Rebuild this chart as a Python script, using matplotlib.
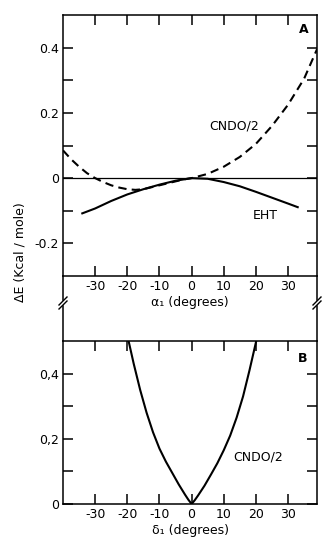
import numpy as np
import matplotlib
matplotlib.use("Agg")
import matplotlib.pyplot as plt
import matplotlib as mpl
from matplotlib.lines import Line2D

mpl.rcParams['font.family'] = 'DejaVu Sans'
mpl.rcParams['font.size'] = 9
mpl.rcParams['axes.linewidth'] = 1.1
mpl.rcParams['xtick.direction'] = 'in'
mpl.rcParams['ytick.direction'] = 'in'
mpl.rcParams['xtick.major.size'] = 7
mpl.rcParams['ytick.major.size'] = 7
mpl.rcParams['xtick.major.width'] = 1.1
mpl.rcParams['ytick.major.width'] = 1.1

W, H = 326, 543

# panel A: energy vs alpha_1
alpha_cndo = [-40, -37.5, -35, -32.5, -30, -27.5, -25, -22.5, -20, -17.5, -15, -12.5,
              -10, -7.5, -5, -2.5, 0, 5, 10, 15, 20, 25, 30, 35, 39]
e_cndo_a = [0.085, 0.058, 0.035, 0.015, 0.0, -0.012, -0.022, -0.029, -0.034, -0.036,
            -0.034, -0.028, -0.022, -0.016, -0.010, -0.004, 0.0, 0.013, 0.035, 0.065,
            0.105, 0.160, 0.225, 0.305, 0.395]
alpha_eht = [-34, -30, -25, -20, -15, -10, -5, 0, 5, 10, 15, 20, 25, 30, 33]
e_eht = [-0.108, -0.093, -0.070, -0.050, -0.034, -0.020, -0.008, 0.0, -0.002, -0.012,
         -0.025, -0.042, -0.060, -0.078, -0.089]

# panel B: energy vs delta_1
delta_cndo = [-19.6, -18, -16, -14, -12, -10, -8, -6, -4, -2, -1, 0, 1, 2, 4, 6, 8, 10,
              12, 14, 16, 18, 20.1]
e_cndo_b = [0.50, 0.43, 0.35, 0.28, 0.22, 0.17, 0.13, 0.095, 0.06, 0.028, 0.013, 0.0,
            0.012, 0.026, 0.056, 0.09, 0.125, 0.165, 0.21, 0.265, 0.33, 0.41, 0.50]

x_ticks = [-30, -20, -10, 0, 10, 20, 30]
x_ticklabels = ["-30", "-20", "-10", "0", "10", "20", "30"]
a_yticks = [-0.2, -0.1, 0.0, 0.1, 0.2, 0.3, 0.4]
a_yticklabels = ["-0.2", "", "0", "", "0.2", "", "0.4"]
b_yticks = [0.0, 0.1, 0.2, 0.3, 0.4]
b_yticklabels = ["0", "", "0,2", "", "0,4"]


def px(x, y):
    return x / W, 1 - y / H


fig = plt.figure(figsize=(W / 100, H / 100), dpi=100)
left, right = 63, 317
axA = fig.add_axes([left / W, 1 - 276 / H, (right - left) / W, (276 - 15) / H])
axB = fig.add_axes([left / W, 1 - 504 / H, (right - left) / W, (504 - 341) / H])

for ax in (axA, axB):
    ax.set_xlim(-40, 39)
    ax.set_xticks(x_ticks)
    ax.set_xticklabels(x_ticklabels)
    ax.tick_params(axis='x', top=True, pad=3)
    ax.tick_params(axis='y', right=True, pad=3)

axA.set_ylim(-0.3, 0.5)
axA.set_yticks(a_yticks)
axA.set_yticklabels(a_yticklabels)
axA.axhline(0, color='k', lw=0.9)
axA.plot(alpha_cndo, e_cndo_a, color='k', lw=1.5, ls=(0, (4, 2.5)))
axA.plot(alpha_eht, e_eht, color='k', lw=1.5)
axA.text(5.4, 0.16, "CNDO/2", ha='left', va='center', fontsize=9)
axA.text(19.1, -0.114, "EHT", ha='left', va='center', fontsize=9)
axA.text(35, 0.455, "A", ha='center', va='center', fontsize=9, fontweight='bold')
axA.set_xlabel("α₁ (degrees)", labelpad=2)

axB.set_ylim(0, 0.5)
axB.set_yticks(b_yticks)
axB.set_yticklabels(b_yticklabels)
axB.plot(delta_cndo, e_cndo_b, color='k', lw=1.5)
axB.text(12.9, 0.145, "CNDO/2", ha='left', va='center', fontsize=9)
axB.text(34.5, 0.446, "B", ha='center', va='center', fontsize=9, fontweight='bold')
axB.set_xlabel("δ₁ (degrees)", labelpad=2)

# spine pieces between the panels, with break marks
for xs in (left, right):
    for y0, y1 in ((276, 300), (306, 341)):
        fig.add_artist(Line2D(*zip(px(xs, y0), px(xs, y1)), color='k', lw=1.1,
                              transform=fig.transFigure))
    for yc in (301, 305):
        fig.add_artist(Line2D(*zip(px(xs - 4, yc + 4), px(xs + 4, yc - 4)), color='k',
                              lw=1.0, transform=fig.transFigure))

fig.text(*px(20, 252), "ΔE (Kcal / mole)", rotation=90, ha='center', va='center',
         fontsize=9)

fig.savefig("out.png", dpi=100)
